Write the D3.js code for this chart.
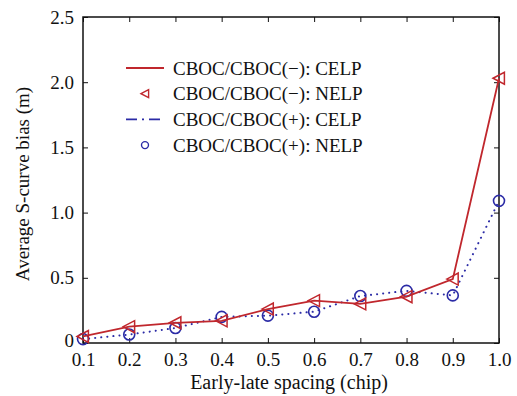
<!DOCTYPE html>
<html>
<head>
<meta charset="utf-8">
<script src="https://cdn.jsdelivr.net/npm/d3@7"></script>
<style>
  html, body { margin: 0; padding: 0; background: #fff; }
  svg { display: block; }
  text { font-family: "Liberation Serif", "Times New Roman", serif; fill: #111; }
</style>
</head>
<body>
<svg id="chart" width="517" height="396"></svg>
<script>
// Early-late spacing (chip)
const spacing = [0.1, 0.2, 0.3, 0.4, 0.5, 0.6, 0.7, 0.8, 0.9, 1.0];
// Average S-curve bias (m), CBOC/CBOC(−)
const biasMinus = [0.05, 0.125, 0.155, 0.17, 0.26, 0.325, 0.30, 0.355, 0.49, 2.03];
// Average S-curve bias (m), CBOC/CBOC(+)
const biasPlus = [0.03, 0.065, 0.115, 0.20, 0.21, 0.24, 0.36, 0.40, 0.365, 1.09];

const xTicks = [0.1, 0.2, 0.3, 0.4, 0.5, 0.6, 0.7, 0.8, 0.9, 1.0];
const yTicks = [0, 0.5, 1.0, 1.5, 2.0, 2.5];

const legendItems = [
  { label: "CBOC/CBOC(\u2212): CELP", kind: "line", color: "#c0272d" },
  { label: "CBOC/CBOC(\u2212): NELP", kind: "tri", color: "#c0272d" },
  { label: "CBOC/CBOC(+): CELP", kind: "dashdot", color: "#2b2ba6" },
  { label: "CBOC/CBOC(+): NELP", kind: "circle", color: "#2b2ba6" }
];

const RED = "#c0272d", BLUE = "#2b2ba6";
const margin = { left: 83, right: 18, top: 17, bottom: 53 };
const W = 517, H = 396;
const FS = "19px";
const svg = d3.select("#chart");

const x = d3.scaleLinear().domain([0.1, 1.0]).range([margin.left, W - margin.right]);
const y = d3.scaleLinear().domain([0, 2.5]).range([H - margin.bottom, margin.top]);

const fmtY = d => d === 0 ? "0" : d3.format(".1f")(d);

// Axes with inward ticks on all four sides
const axisStyle = g => {
  g.select(".domain").remove();
  g.selectAll("line").attr("stroke", "#111").attr("stroke-width", 1);
  g.selectAll("text").style("font-size", FS).attr("fill", "#111");
};

svg.append("g").attr("transform", `translate(0,${y(0)})`)
  .call(d3.axisBottom(x).tickValues(xTicks).tickFormat(d3.format(".1f")).tickSizeInner(-5).tickPadding(10))
  .call(axisStyle);
svg.append("g").attr("transform", `translate(0,${y(2.5)})`)
  .call(d3.axisTop(x).tickValues(xTicks).tickFormat("").tickSizeInner(-5))
  .call(axisStyle);
svg.append("g").attr("transform", `translate(${x(0.1)},0)`)
  .call(d3.axisLeft(y).tickValues(yTicks).tickFormat(fmtY).tickSizeInner(-5).tickPadding(9))
  .call(axisStyle)
  .call(g => g.selectAll(".tick").filter(d => d === 0).select("text").attr("dy", "0.2em"));
svg.append("g").attr("transform", `translate(${x(1.0)},0)`)
  .call(d3.axisRight(y).tickValues(yTicks).tickFormat("").tickSizeInner(-5))
  .call(axisStyle);

// Plot frame
svg.append("rect")
  .attr("x", x(0.1)).attr("y", y(2.5))
  .attr("width", x(1.0) - x(0.1)).attr("height", y(0) - y(2.5))
  .attr("fill", "none").attr("stroke", "#111").attr("stroke-width", 1.5);

// Axis titles
svg.append("text")
  .attr("x", 289).attr("y", 389)
  .attr("text-anchor", "middle").style("font-size", "20px")
  .text("Early-late spacing (chip)");
svg.append("text")
  .attr("transform", `translate(29,184) rotate(-90)`)
  .attr("text-anchor", "middle").style("font-size", FS)
  .text("Average S-curve bias (m)");

const line = d3.line().x(d => x(d[0])).y(d => y(d[1]));
const minusPts = spacing.map((s, i) => [s, biasMinus[i]]);
const plusPts = spacing.map((s, i) => [s, biasPlus[i]]);

// CBOC(+) dotted curve with circles
svg.append("path").datum(plusPts).attr("d", line)
  .attr("fill", "none").attr("stroke", BLUE).attr("stroke-width", 2)
  .attr("stroke-dasharray", "0.1 6").attr("stroke-linecap", "round");
svg.append("g").selectAll("circle").data(plusPts).join("circle")
  .attr("cx", d => x(d[0])).attr("cy", d => y(d[1])).attr("r", 5.5)
  .attr("fill", "none").attr("stroke", BLUE).attr("stroke-width", 1.6);

// CBOC(−) solid curve with left-pointing triangles
svg.append("path").datum(minusPts).attr("d", line)
  .attr("fill", "none").attr("stroke", RED).attr("stroke-width", 1.8);
const tri = s => `M${-s},0L${s * 0.9},${-s}L${s * 0.9},${s}Z`;
svg.append("g").selectAll("path").data(minusPts).join("path")
  .attr("transform", d => `translate(${x(d[0])},${y(d[1])})`)
  .attr("d", tri(6))
  .attr("fill", "none").attr("stroke", RED).attr("stroke-width", 1.5);

// Legend
const lg = svg.append("g");
legendItems.forEach((it, i) => {
  const cy = 68 + i * 25.7;
  const g = lg.append("g");
  if (it.kind === "line") {
    g.append("line").attr("x1", 126).attr("x2", 164).attr("y1", cy).attr("y2", cy)
      .attr("stroke", it.color).attr("stroke-width", 1.8);
  } else if (it.kind === "dashdot") {
    g.append("line").attr("x1", 126).attr("x2", 164).attr("y1", cy).attr("y2", cy)
      .attr("stroke", it.color).attr("stroke-width", 1.8).attr("stroke-dasharray", "11 5 2 5 11");
  } else if (it.kind === "tri") {
    g.append("path").attr("transform", `translate(145,${cy})`).attr("d", tri(4))
      .attr("fill", "none").attr("stroke", it.color).attr("stroke-width", 1.4);
  } else {
    g.append("circle").attr("cx", 145).attr("cy", cy).attr("r", 3.5)
      .attr("fill", "none").attr("stroke", it.color).attr("stroke-width", 1.4);
  }
  g.append("text").attr("x", 173).attr("y", cy + 6.5).style("font-size", FS).text(it.label);
});
</script>
</body>
</html>
